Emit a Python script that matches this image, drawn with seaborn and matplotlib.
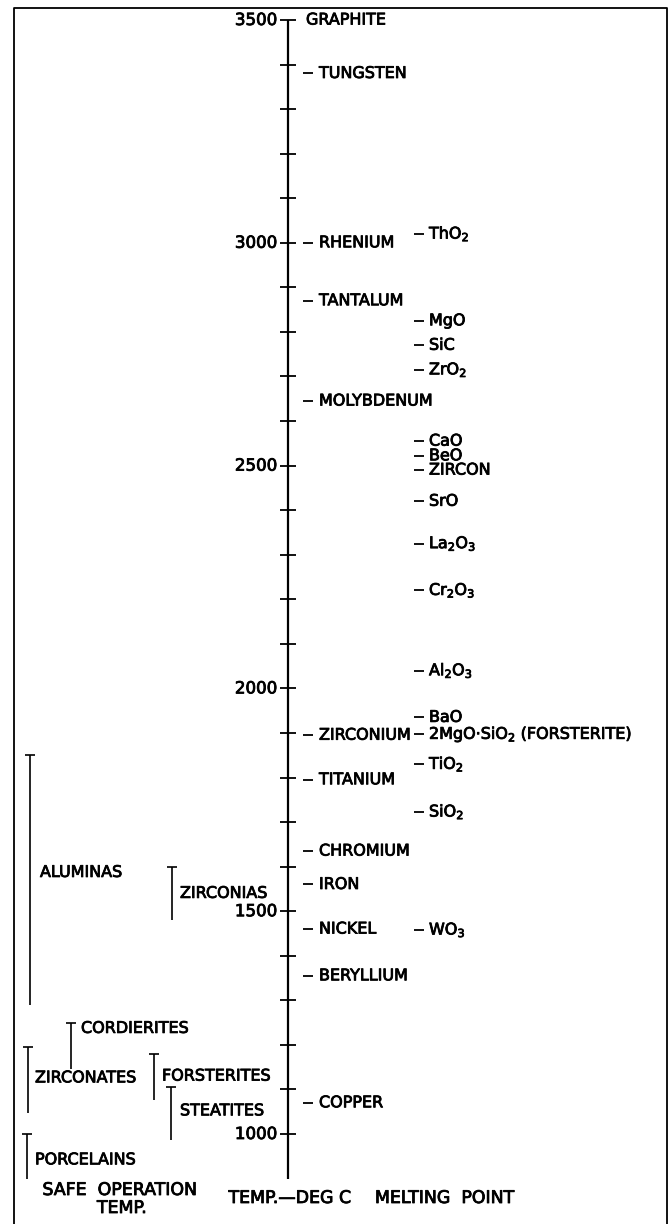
import numpy as np
import matplotlib
matplotlib.use("Agg")
import matplotlib.pyplot as plt
import matplotlib.patheffects as pe
import seaborn as sns

# melting points (deg C)
metals = ["GRAPHITE", "TUNGSTEN", "RHENIUM", "TANTALUM", "MOLYBDENUM", "ZIRCONIUM",
          "TITANIUM", "CHROMIUM", "IRON", "NICKEL", "BERYLLIUM", "COPPER"]
metal_mp = [3500, 3380, 3000, 2870, 2645, 1895, 1795, 1635, 1560, 1460, 1355, 1070]

oxides = ["ThO$_2$", "MgO", "SiC", "ZrO$_2$", "CaO", "BeO", "ZIRCON", "SrO",
          "La$_2$O$_3$", "Cr$_2$O$_3$", "Al$_2$O$_3$", "BaO",
          r"2MgO$\cdot$SiO$_2$ (FORSTERITE)", "TiO$_2$", "SiO$_2$", "WO$_3$"]
oxide_mp = [3020, 2825, 2770, 2715, 2555, 2522, 2490, 2420, 2325, 2220, 2040,
            1935, 1897, 1830, 1723, 1458]

# safe operation temperature ranges
ceramics = ["ALUMINAS", "ZIRCONIAS", "CORDIERITES", "ZIRCONATES", "FORSTERITES",
            "STEATITES", "PORCELAINS"]
safe_top = [1850, 1600, 1250, 1195, 1180, 1105, 1000]
safe_bottom = [1290, 1480, 1145, 1047, 1076, 987, 900]

scale_labels = [3500, 3000, 2500, 2000, 1500, 1000]

# layout: bar x, label x, label temperature
ceramic_layout = {
    "ALUMINAS": (30, 40, 1587),
    "ZIRCONIAS": (172, 180, 1540),
    "CORDIERITES": (71, 81, 1237),
    "ZIRCONATES": (28, 35, 1126),
    "FORSTERITES": (154, 162, 1130),
    "STEATITES": (171, 180, 1052),
    "PORCELAINS": (27, 35, 942),
}

sns.set_theme(style="white")
plt.rcParams["font.family"] = ["DejaVu Sans"]
plt.rcParams["mathtext.default"] = "regular"

PX = 0.4456  # pixels per degree
fig = plt.figure(figsize=(6.72, 12.24), dpi=100)
ax = fig.add_axes([0, 0, 1, 1])
ax.set_xlim(0, 672)
ymin = 1000 - (1224 - 1134) / PX
ymax = 3500 + 20 / PX
ax.set_ylim(ymin, ymax)
ax.axis("off")

def py(y):
    return 3500 - (y - 20) / PX

fs = 11.5
k = "black"
heavy = [pe.withStroke(linewidth=0.6, foreground=k)]

def label(x, y, s, ha="left", size=fs):
    ax.text(x, y, s, ha=ha, va="center", fontsize=size, color=k, path_effects=heavy)

# frame
top = py(8)
ax.plot([14, 14, 667, 667], [ymin, top, top, ymin], color=k, lw=1.3)

# central temperature scale
ax.vlines(288, 900, 3500, color=k, lw=1.6)
for t in np.arange(1000, 3600, 100):
    ax.hlines(t, 280, 296, color=k, lw=1.3)
for t in scale_labels:
    label(277, t, str(t), ha="right", size=12)

# metals
for name, t in zip(metals, metal_mp):
    if name == "GRAPHITE":
        label(306, t, name)
        continue
    ax.hlines(t, 303, 313, color=k, lw=1.3)
    label(319, t, name)

# oxides
for name, t in zip(oxides, oxide_mp):
    ax.hlines(t, 414, 424, color=k, lw=1.3)
    label(429, t, name)

# safe operation ranges
for name, t0, t1 in zip(ceramics, safe_top, safe_bottom):
    bx, lx, lt = ceramic_layout[name]
    ax.vlines(bx, t1, t0, color=k, lw=1.2)
    ax.hlines(t0, bx - 5, bx + 5, color=k, lw=1.2)
    label(lx, lt, name)

# column captions
label(120, py(1190), "SAFE  OPERATION", ha="center", size=12.5)
label(122, py(1208), "TEMP.", ha="center", size=12.5)
label(290, py(1198), "TEMP.\u2014DEG C", ha="center", size=12.5)
label(445, py(1198), "MELTING  POINT", ha="center", size=12.5)

fig.savefig("out.png", dpi=100, facecolor="white")
